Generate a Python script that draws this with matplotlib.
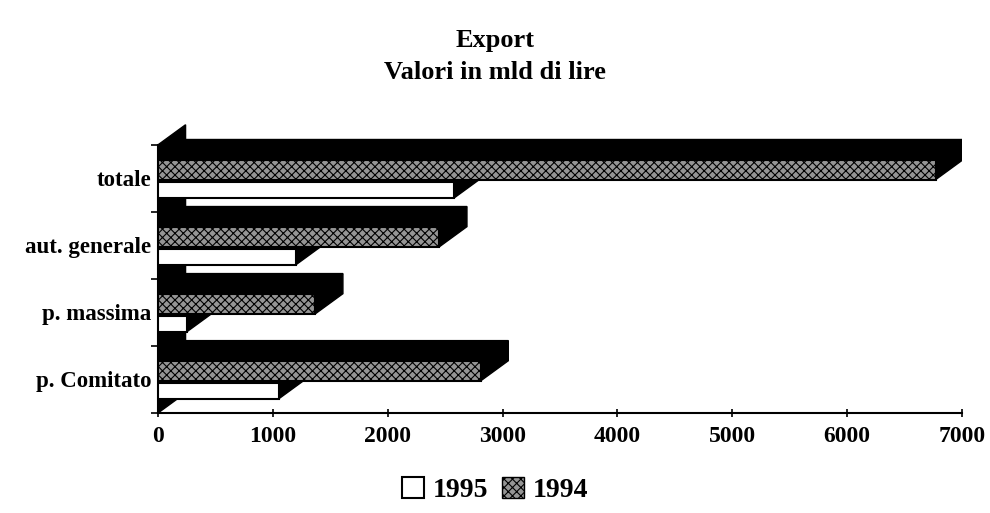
import matplotlib
matplotlib.use("Agg")
import matplotlib.pyplot as plt
from matplotlib.patches import Polygon, Patch

# categories from bottom to top
categories = ["p. Comitato", "p. massima", "aut. generale", "totale"]
values_1995 = [1050, 250, 1200, 2580]
values_1994 = [2810, 1370, 2450, 6770]
xticks = [0, 1000, 2000, 3000, 4000, 5000, 6000, 7000]

plt.rcParams['font.family'] = ['Liberation Serif', 'DejaVu Serif']
plt.rcParams['font.weight'] = 'bold'
plt.rcParams['hatch.color'] = '#333333'
plt.rcParams['hatch.linewidth'] = 0.8

dx, dy = 240, 0.3  # 3d depth offset (value units, category units)
hatch_face = '#959595'


def bar3d(ax, y0, h, v, face, hatch=None):
    # right side and top face in black, then the front face
    side = [(v, y0), (v + dx, y0 + dy), (v + dx, y0 + h + dy), (v, y0 + h)]
    top = [(0, y0 + h), (v, y0 + h), (v + dx, y0 + h + dy), (dx, y0 + h + dy)]
    ax.add_patch(Polygon(side, closed=True, fc='black', ec='black', lw=1, zorder=3))
    ax.add_patch(Polygon(top, closed=True, fc='black', ec='black', lw=1, zorder=3))
    ax.add_patch(plt.Rectangle((0, y0), v, h, fc=face, ec='black', lw=1.5,
                               hatch=hatch, zorder=4))


fig = plt.figure(figsize=(9.9, 5.13), dpi=100)
ax = fig.add_axes([0.1596, 0.1949, 0.8121, 0.575])
ax.set_xlim(0, 7000)
ax.set_ylim(0, 4.4)

# left wall of the 3d box
wall = [(0, 0), (dx, dy), (dx, 4 + dy), (0, 4)]
ax.add_patch(Polygon(wall, closed=True, fc='black', ec='black', lw=1, zorder=2))

for i, cat in enumerate(categories):
    bar3d(ax, i + 0.21, 0.24, values_1995[i], 'white')
    bar3d(ax, i + 0.48, 0.30, values_1994[i], hatch_face, hatch='xxxx')

for s in ['top', 'right']:
    ax.spines[s].set_visible(False)
ax.spines['left'].set_bounds(0, 4)
ax.spines['left'].set_linewidth(1.5)
ax.spines['bottom'].set_linewidth(1.5)

ax.set_xticks(xticks)
ax.set_xticklabels([str(t) for t in xticks], fontsize=17, fontweight='bold')
ax.tick_params(axis='x', direction='inout', length=6, width=1.2, pad=6)

ax.set_yticks([0, 1, 2, 3, 4])
ax.set_yticklabels([])
ax.tick_params(axis='y', direction='out', length=5, width=1.2)
ax.set_yticks([i + 0.5 for i in range(len(categories))], minor=True)
ax.set_yticklabels(categories, minor=True, fontsize=16.5, fontweight='bold')
ax.tick_params(axis='y', which='minor', length=0, pad=5)

fig.text(0.5, 0.921, "Export", ha='center', va='center', fontsize=19, fontweight='bold')
fig.text(0.5, 0.859, "Valori in mld di lire", ha='center', va='center',
         fontsize=19, fontweight='bold')

handles = [Patch(fc='white', ec='black', lw=1.5, label='1995'),
           Patch(fc=hatch_face, ec='black', lw=1, hatch='xxxx', label='1994')]
fig.legend(handles=handles, loc='center', bbox_to_anchor=(0.5, 0.045), ncol=2,
           frameon=False, fontsize=20, handlelength=0.8, handleheight=0.8,
           handletextpad=0.3, columnspacing=0.5)

fig.savefig("out.png", dpi=100)
